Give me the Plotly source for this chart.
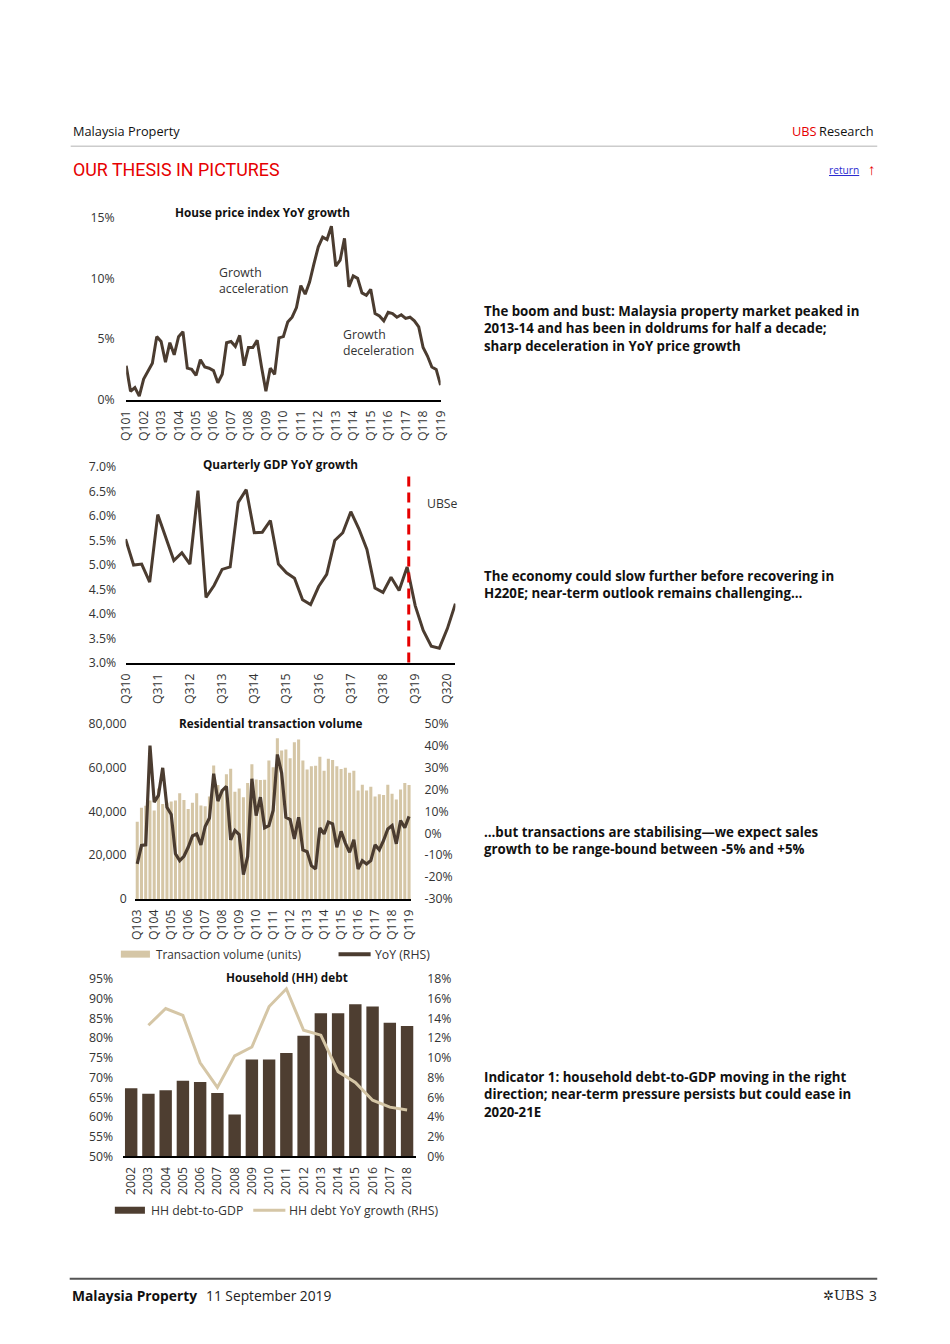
import plotly.graph_objects as go

# ---------------- data ----------------
def quarter_labels(year, q, n):
    out = []
    for _ in range(n):
        out.append(f"Q{q}{year % 100:02d}")
        q += 1
        if q > 4:
            q = 1
            year += 1
    return out

hpi_quarters = quarter_labels(2001, 1, 73)
hpi_yoy = [2.8, 0.7, 1.0, 0.3, 1.7, 2.4, 3.0, 5.2, 4.8, 3.1,
           4.7, 3.7, 5.2, 5.6, 2.6, 2.5, 2.0, 3.3, 2.7, 2.6,
           2.4, 1.4, 2.1, 4.7, 4.8, 4.4, 5.3, 2.8, 4.3, 4.3,
           4.9, 2.7, 0.7, 2.6, 2.1, 5.1, 5.2, 6.4, 6.8, 7.6,
           9.4, 8.7, 9.7, 11.2, 12.6, 13.4, 13.2, 14.3, 11.0, 11.5,
           13.3, 9.3, 10.2, 10.0, 8.8, 8.6, 9.1, 7.1, 6.9, 6.5,
           7.2, 7.1, 6.8, 7.0, 6.7, 6.8, 6.5, 6.0, 4.3, 3.6,
           2.7, 2.5, 1.2]

gdp_quarters = quarter_labels(2010, 3, 42)
gdp_yoy = [5.53, 5.00, 5.02, 4.65, 6.03, 5.55, 5.09, 5.25, 5.02, 6.52,
           4.34, 4.58, 4.91, 4.96, 6.28, 6.54, 5.66, 5.67, 5.91, 5.02,
           4.84, 4.73, 4.29, 4.19, 4.56, 4.81, 5.50, 5.66, 6.09, 5.74,
           5.32, 4.53, 4.44, 4.75, 4.48, 4.96, 4.17, 3.66, 3.34, 3.30,
           3.70, 4.21]
ubse_split = 35.2  # forecast boundary (just after Q219)

tx_quarters = quarter_labels(2003, 1, 65)
tx_volume = [35300, 41700, 42600, 45000,
             40400, 50500, 43400, 44000,
             44500, 45000, 48300, 45200,
             41100, 43900, 48300, 42700,
             42400, 46800, 61000, 52000,
             50000, 57000, 59500, 49000,
             50500, 46500, 53000, 61500,
             54600, 54300, 54500, 63300,
             60200, 73400, 67800, 68300,
             64300, 71600, 72800, 63200,
             59100, 60600, 60900, 65000,
             58600, 64000, 63500, 60600,
             59400, 59900, 57600, 58600,
             49500, 52200, 49500, 51300,
             46800, 47800, 47500, 52200,
             48100, 45400, 50000, 53000,
             52100]
tx_yoy = [-14.0, -5.6, -5.3, 40.1, 14.2, 17.3, 29.9, 11.9, 8.6, -9.4,
          -12.5, -10.5, -6.4, -1.2, -0.3, -5.3, 3.1, 7.0, 27.2, 14.7,
          19.5, 21.4, -3.0, 1.3, -0.6, -18.9, -10.6, 24.9, 8.1, 16.5,
          2.5, 3.5, 10.4, 36.0, 27.5, 7.3, 6.3, -2.6, 7.3, -7.6,
          -8.4, -14.8, -16.3, 2.5, -0.3, 5.1, 4.3, -6.4, 0.9, -4.5,
          -8.7, -3.0, -16.3, -12.5, -14.0, -12.5, -5.3, -7.6, -3.3, 2.0,
          3.5, -4.8, 5.8, 2.5, 7.7]

hh_years = [str(y) for y in range(2002, 2019)]
hh_debt_gdp = [67.3, 65.9, 66.8, 69.2, 68.9, 66.1, 60.6, 74.6, 74.6, 76.2,
               80.6, 86.3, 86.3, 88.6, 88.0, 83.9, 83.1]
hh_debt_growth = [None, 13.3, 15.0, 14.3, 9.5, 7.0, 10.2, 11.1, 15.2, 17.0,
                  12.8, 12.3, 8.6, 7.5, 5.7, 5.0, 4.7]

# ---------------- styling ----------------
W, H = 950, 1344
# the page photo pads and rescales the figure slightly; compensate so that
# positions given in page pixels land where intended
OX, OY, SX, SY = 11.5, 8.7, 0.979, 0.987
FONT = "Open Sans"
BROWN = "#4b3c30"
TAN = "#d5c6a6"
RED = "#e60000"
TXT = "#333333"


def px(x):
    return (x - OX) / SX / W


def py(y):
    return 1 - (y - OY) / SY / H


def fs(s):
    return round(s / SX, 2)


tick_font = dict(family=FONT, size=fs(12), color=TXT)


def xcat(d0, d1, cats, step, rng, anchor):
    return dict(domain=[px(d0), px(d1)], type="category", categoryorder="array",
                categoryarray=cats, range=rng, tickmode="array", tickvals=cats[::step],
                tickangle=-90, tickfont=tick_font, showgrid=False, showline=True,
                linecolor="black", linewidth=1.5, ticks="outside", ticklen=4,
                tickcolor="rgba(0,0,0,0)", zeroline=False, anchor=anchor, fixedrange=True)


def yax(t0, t1, rng, vals, texts, anchor, side="left", overlaying=None, standoff=10):
    d = dict(domain=[py(t1), py(t0)], range=rng, tickmode="array", tickvals=vals,
             ticktext=texts, tickfont=tick_font, showgrid=False, showline=False,
             zeroline=False, ticks="outside", ticklen=standoff,
             tickcolor="rgba(0,0,0,0)", anchor=anchor, side=side, fixedrange=True)
    if overlaying:
        d["overlaying"] = overlaying
    return d


fig = go.Figure()

# Chart 1
fig.add_trace(go.Scatter(x=hpi_quarters, y=hpi_yoy, mode="lines",
                         line=dict(color=BROWN, width=3), xaxis="x", yaxis="y",
                         showlegend=False))
# Chart 2
fig.add_trace(go.Scatter(x=gdp_quarters, y=gdp_yoy, mode="lines",
                         line=dict(color=BROWN, width=3), xaxis="x2", yaxis="y2",
                         showlegend=False))
# Chart 3
fig.add_trace(go.Bar(x=tx_quarters, y=tx_volume, marker=dict(color=TAN, line_width=0),
                     xaxis="x3", yaxis="y3", showlegend=False))
fig.add_trace(go.Scatter(x=tx_quarters, y=tx_yoy, mode="lines",
                         line=dict(color=BROWN, width=3.2), xaxis="x3", yaxis="y4",
                         showlegend=False))
# Chart 4
fig.add_trace(go.Bar(x=hh_years, y=hh_debt_gdp,
                     marker=dict(color="#4e3e31", line_width=0),
                     xaxis="x4", yaxis="y5", showlegend=False))
fig.add_trace(go.Scatter(x=hh_years, y=hh_debt_growth, mode="lines",
                         line=dict(color=TAN, width=3), xaxis="x4", yaxis="y6",
                         showlegend=False))

fig.update_layout(
    width=W, height=H, margin=dict(l=0, r=0, t=0, b=0), autosize=False,
    paper_bgcolor="white", plot_bgcolor="rgba(0,0,0,0)",
    font=dict(family=FONT, color=TXT), bargap=0.28, barmode="overlay",
    xaxis=xcat(128.3, 441.7, hpi_quarters, 4, [0, 72], "y"),
    yaxis=yax(217.3, 399.3, [0, 15], [0, 5, 10, 15], ["0%", "5%", "10%", "15%"], "x", standoff=8),
    xaxis2=xcat(127.7, 456.5, gdp_quarters, 4, [0, 41], "y2"),
    yaxis2=yax(466.7, 662.3, [3, 7], [3 + 0.5 * i for i in range(9)],
               [f"{3 + 0.5 * i:.1f}%" for i in range(9)], "x2", standoff=6),
    xaxis3=xcat(137.2, 412.4, tx_quarters, 4, [-0.5, 64.5], "y3"),
    yaxis3=yax(723.3, 898.3, [0, 80000], [0, 20000, 40000, 60000, 80000],
               ["0", "20,000", "40,000", "60,000", "80,000"], "x3", standoff=5),
    yaxis4=yax(723.3, 898.3, [-30, 50], list(range(-30, 51, 10)),
               [f"{v}%" for v in range(-30, 51, 10)], "x3", side="right",
               overlaying="y3", standoff=10),
    xaxis4=xcat(124.7, 416.9, hh_years, 1, [-0.5, 16.5], "y5"),
    yaxis5=yax(978.3, 1155.7, [50, 95], list(range(50, 96, 5)),
               [f"{v}%" for v in range(50, 96, 5)], "x4", standoff=6),
    yaxis6=yax(978.3, 1155.7, [0, 18], list(range(0, 19, 2)),
               [f"{v}%" for v in range(0, 19, 2)], "x4", side="right",
               overlaying="y5", standoff=8),
)

shapes = [
    dict(type="line", xref="paper", yref="paper", x0=px(73), x1=px(877), y0=py(146), y1=py(146),
         line=dict(color="#cccccc", width=1.5)),
    dict(type="line", xref="paper", yref="paper", x0=px(72), x1=px(877), y0=py(1278), y1=py(1278),
         line=dict(color="#555555", width=2)),
    dict(type="line", xref="x2", yref="paper", x0=ubse_split, x1=ubse_split, y0=py(662), y1=py(470),
         line=dict(color=RED, width=3, dash="10px,6px")),
    # legend swatches
    dict(type="rect", xref="paper", yref="paper", x0=px(123), x1=px(152), y0=py(957), y1=py(950),
         fillcolor=TAN, line_width=0),
    dict(type="line", xref="paper", yref="paper", x0=px(340), x1=px(372), y0=py(953.5), y1=py(953.5),
         line=dict(color=BROWN, width=4)),
    dict(type="rect", xref="paper", yref="paper", x0=px(117), x1=px(147), y0=py(1213), y1=py(1206),
         fillcolor="#4e3e31", line_width=0),
    dict(type="line", xref="paper", yref="paper", x0=px(255), x1=px(287), y0=py(1209.5), y1=py(1209.5),
         line=dict(color=TAN, width=3)),
]
fig.update_layout(shapes=shapes)


def ann(x, y, text, size=12, anchor="left", color=TXT, bold=False, family=FONT, yanchor="middle"):
    if bold:
        text = f"<b>{text}</b>"
    return dict(x=px(x), y=py(y), xref="paper", yref="paper", text=text, showarrow=False,
                xanchor=anchor, yanchor=yanchor, align=anchor if anchor != "center" else "center",
                font=dict(family=family, size=fs(size), color=color))


annotations = [
    ann(73, 131, "Malaysia Property", size=12.5, color="#111"),
    ann(819, 131, "UBS", size=12.5, anchor="right", color=RED),
    ann(876, 131, "Research", size=12.5, anchor="right", color="#111"),
    ann(73, 169, "OUR THESIS IN PICTURES", size=17.5, color=RED, family="Roboto"),
    ann(861, 170, "<u>return</u>", size=10, anchor="right", color="#2b2bd0"),
    ann(878, 168.5, "↑", size=15, anchor="right", color=RED),
    # chart titles
    ann(264, 212, "House price index YoY growth", size=11.5, anchor="center", color="#111", bold=True),
    ann(282, 464, "Quarterly GDP YoY growth", size=11.5, anchor="center", color="#111", bold=True),
    ann(272, 722, "Residential transaction volume", size=11.5, anchor="center", color="#111", bold=True),
    ann(289, 976, "Household (HH) debt", size=11.5, anchor="center", color="#111", bold=True),
    # in-chart notes
    ann(219, 280, "Growth<br>acceleration", size=12),
    ann(342, 342, "Growth<br>deceleration", size=12),
    ann(426, 503, "UBSe", size=12),
    # legends
    ann(156, 953.5, "Transaction volume (units)", size=11.5),
    ann(374, 953.5, "YoY (RHS)", size=12),
    ann(151, 1209.5, "HH debt-to-GDP", size=12),
    ann(289, 1209.5, "HH debt YoY growth (RHS)", size=12),
    # commentary
    ann(483, 328, "The boom and bust: Malaysia property market peaked in<br>"
                  "2013-14 and has been in doldrums for half a decade;<br>"
                  "sharp deceleration in YoY price growth", size=13, color="#111", bold=True),
    ann(483, 583.5, "The economy could slow further before recovering in<br>"
                    "H220E; near-term outlook remains challenging…", size=13, color="#111", bold=True),
    ann(483, 839.5, "…but transactions are stabilising—we expect sales<br>"
                    "growth to be range-bound between -5% and +5%", size=13, color="#111", bold=True),
    ann(483, 1094, "Indicator 1: household debt-to-GDP moving in the right<br>"
                   "direction; near-term pressure persists but could ease in<br>"
                   "2020-21E", size=13, color="#111", bold=True),
    # footer
    ann(72, 1295, "Malaysia Property", size=13.5, color="#111", bold=True),
    ann(206, 1295, "11 September 2019", size=13.5, color="#222"),
    ann(866, 1295, "✲UBS", size=13, anchor="right", color="#222", family="DejaVu Serif"),
    ann(879, 1295, "3", size=13.5, anchor="right", color="#222"),
]
fig.update_layout(annotations=annotations)

fig.write_html(
    "out.html",
    config={"responsive": False, "displayModeBar": False},
    post_script="document.body.style.margin='0';document.body.style.padding='0';"
                "document.body.style.overflow='hidden';",
)
